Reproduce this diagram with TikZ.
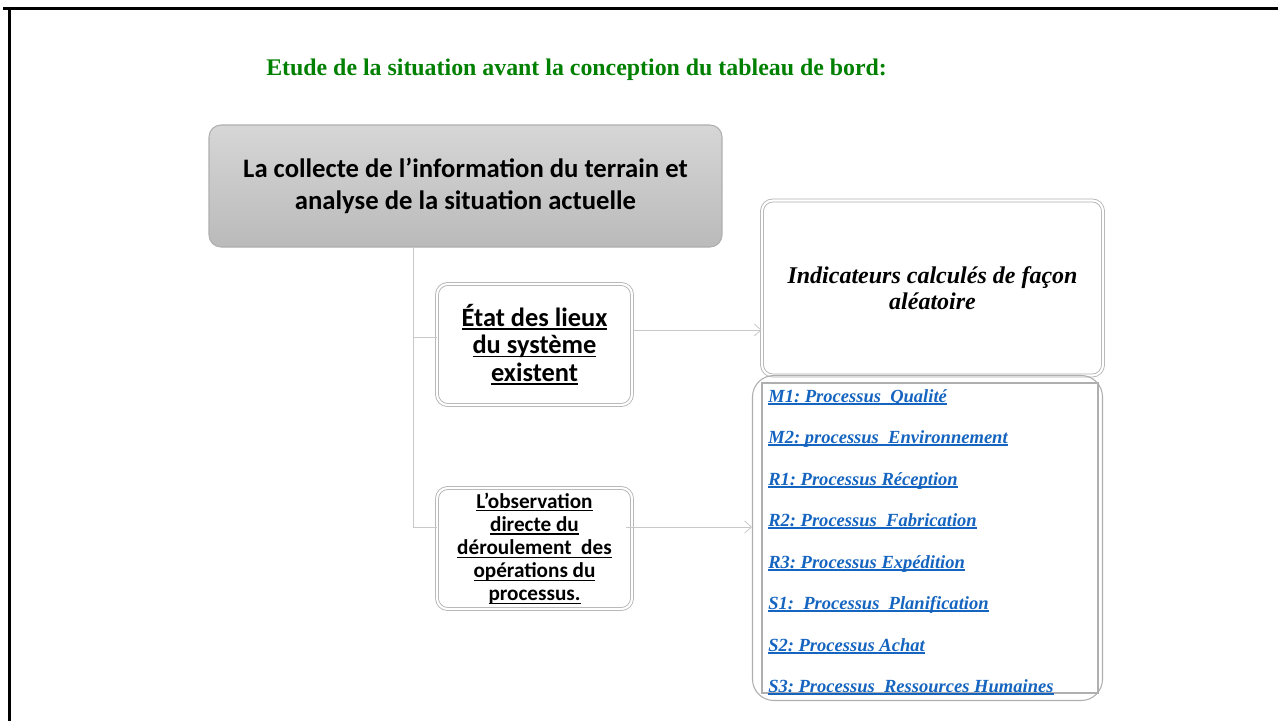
\documentclass[tikz,border=0pt]{standalone}
\usepackage{fontspec}
\setmainfont{Liberation Serif}
\newfontfamily\calib{Carlito}
\newcommand\uline[2][0.9pt]{\setbox0\hbox{#2}\rlap{\rule[-2.4pt]{\wd0}{#1}}\box0}
\usetikzlibrary{arrows.meta}
\definecolor{ttlgreen}{RGB}{0,128,0}
\definecolor{lnk}{RGB}{21,101,192}
\definecolor{conn}{RGB}{200,200,200}
\definecolor{bord}{RGB}{175,175,175}
\frenchspacing
\tikzset{
  frameline/.style={line width=2.4pt, black},
  mainbox/.style={rectangle, rounded corners=9pt, draw=bord, line width=0.8pt,
    top color=black!16, bottom color=black!27, minimum width=513*0.75pt,
    minimum height=122*0.75pt, inner sep=0pt, align=center,
    font=\calib\bfseries\fontsize{20pt}{24pt}\selectfont},
  dbox/.style={rectangle, rounded corners=8pt, draw=bord, double=white,
    double distance=1.6pt, line width=0.6pt, fill=white, inner sep=0pt, align=center},
  conline/.style={draw=conn, line width=0.6pt},
  arr/.style={draw=conn, line width=0.6pt, -{Straight Barb[length=5pt,width=9pt]}},
  item/.style={anchor=base west, inner sep=0pt, text=lnk,
    font=\bfseries\itshape\fontsize{13.9pt}{15pt}\selectfont},
}
\begin{document}
\begin{tikzpicture}[x=0.75pt,y=-0.75pt]
\useasboundingbox (0,0) rectangle (1278,721);
\fill[white] (0,0) rectangle (1278,721);
% frame
\draw[frameline] (3,8.5) -- (1278,8.5);
\draw[frameline] (9.5,8.5) -- (9.5,721);

% title
\node[anchor=west, inner sep=0pt, text=ttlgreen,
  font=\bfseries\fontsize{17.9pt}{20pt}\selectfont] (title) at (266,70)
  {Etude de la situation avant la conception du tableau de bord:};

% main box
\node[mainbox] (main) at (465.5,186)
  {La collecte de l’information du terrain et\\analyse de la situation actuelle};

% left boxes
\node[dbox, minimum width=195*0.75pt, minimum height=121*0.75pt,
  font=\calib\bfseries\fontsize{19.8pt}{20.6pt}\selectfont] (b2) at (534.5,344.5)
  {\uline[1.1pt]{État des lieux}\\\uline[1.1pt]{du système}\\\uline[1.1pt]{existent}};
\node[dbox, minimum width=195*0.75pt, minimum height=121*0.75pt,
  font=\calib\bfseries\fontsize{15.9pt}{17.4pt}\selectfont] (b3) at (534.5,548.5)
  {\uline{L’observation}\\\uline{directe du}\\\uline{déroulement\ \ des}\\\uline{opérations du}\\\uline{processus.}};

% right boxes
\node[dbox, minimum width=341*0.75pt, minimum height=175*0.75pt,
  font=\bfseries\itshape\fontsize{18pt}{19.5pt}\selectfont] (b4) at (932.5,288)
  {Indicateurs calculés de façon\\aléatoire};
\node[rectangle, rounded corners=16pt, draw=bord, line width=0.8pt,
  minimum width=350*0.75pt, minimum height=325*0.75pt, inner sep=0pt] (b5) at (927.5,538) {};
\node[rectangle, draw=bord, line width=0.8pt, fill=white,
  minimum width=336*0.75pt, minimum height=310*0.75pt, inner sep=0pt] (b5in) at (930,538) {};

\node[item] (i1) at (768,402) {\uline[1.4pt]{M1: Processus\ \ Qualité}};
\node[item] (i2) at (768,443) {\uline[1.4pt]{M2: processus\ \ Environnement}};
\node[item] (i3) at (768,485) {\uline[1.4pt]{R1: Processus Réception}};
\node[item] (i4) at (768,526) {\uline[1.4pt]{R2: Processus\ \ Fabrication}};
\node[item] (i5) at (768,568) {\uline[1.4pt]{R3: Processus Expédition}};
\node[item] (i6) at (768,609) {\uline[1.4pt]{S1:\ \ Processus\ \ Planification}};
\node[item] (i7) at (768,651) {\uline[1.4pt]{S2: Processus Achat}};
\node[item] (i8) at (768,692) {\uline[1.4pt]{S3: Processus\ \ Ressources Humaines}};

% connectors
\coordinate (t1) at (413,337);
\coordinate (t2) at (413,527);
\draw[conline] (main.south -| t1) -- (t2);
\draw[conline] (t1) -- (b2.west |- t1);
\draw[conline] (t2) -- (b3.west |- t2);
\coordinate (a1) at (633,330);
\coordinate (a2) at (626,527);
\draw[arr] (a1) -- (b4.west |- a1);
\draw[arr] (a2) -- (b5.west |- a2);
\end{tikzpicture}
\end{document}
